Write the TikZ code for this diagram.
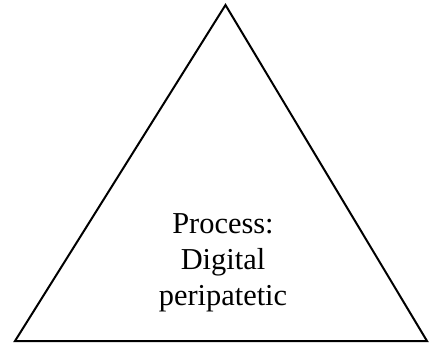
\documentclass[tikz,border=0pt]{standalone}
\usepackage{fontspec}
\setmainfont{Liberation Serif}
\usetikzlibrary{positioning}
\tikzset{
x=1pt, y=-1pt, % one unit is one pixel of the picture
side/.style={line width=2pt, line join=miter}, % the sides of the triangle
label text/.style={align=center, font=\fontsize{30.4}{36}\selectfont, inner sep=0pt}, % the text in the triangle
}
\begin{document}
\begin{tikzpicture}
        \useasboundingbox (0,0) rectangle (429,345);
        \coordinate (apex) at (225.5,5);
        \coordinate (left) at (15,341);
        \coordinate (right) at (427,341);

        \draw[side] (apex) -- (left) -- (right) -- cycle;

        \node[label text, anchor=north] (process) at (223,213) {Process:\\Digital\\peripatetic};
\end{tikzpicture}
\end{document}
